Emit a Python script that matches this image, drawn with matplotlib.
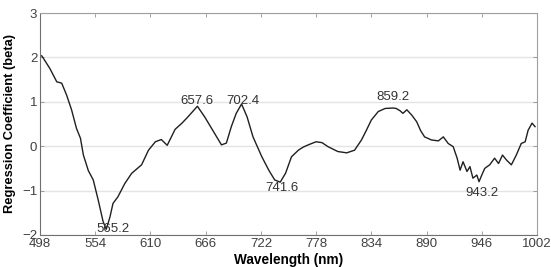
import matplotlib
matplotlib.use('Agg')
import matplotlib.pyplot as plt
import numpy as np

plt.rcParams['font.family'] = ['Liberation Sans', 'DejaVu Sans']

# wavelength (nm) and regression coefficient
wavelength = [498, 500, 508, 515, 520, 525, 530, 535, 539, 542, 547, 552, 557, 562,
              565.2, 569, 572, 577, 584, 591, 601, 608, 615, 621, 627, 635, 642, 648,
              657.6, 665, 675, 682, 687, 692, 697, 702.4, 708, 714, 723, 730, 736,
              741.6, 747, 753, 760, 765, 770, 778, 784, 790, 800, 809, 817, 824, 829,
              834, 841, 848, 856, 859.2, 863, 866, 870, 875, 880, 884, 888, 895, 902,
              907, 912, 917, 921, 924, 927, 931, 934, 937, 941, 943.2, 946, 949, 954,
              959, 963, 967, 971, 976, 981, 986, 990, 993, 997, 1000]
beta = [2.05, 2.03, 1.75, 1.45, 1.42, 1.15, 0.82, 0.40, 0.18, -0.20, -0.55, -0.76,
        -1.21, -1.70, -1.87, -1.59, -1.29, -1.14, -0.84, -0.61, -0.42, -0.09, 0.10,
        0.15, 0.02, 0.38, 0.52, 0.66, 0.90, 0.66, 0.29, 0.03, 0.07, 0.44, 0.74, 0.95,
        0.66, 0.21, -0.24, -0.54, -0.76, -0.81, -0.61, -0.24, -0.09, -0.02, 0.03,
        0.10, 0.08, -0.01, -0.12, -0.15, -0.09, 0.14, 0.36, 0.59, 0.78, 0.85, 0.86,
        0.85, 0.80, 0.74, 0.82, 0.70, 0.55, 0.35, 0.21, 0.14, 0.12, 0.21, 0.06,
        -0.01, -0.27, -0.54, -0.35, -0.57, -0.46, -0.72, -0.65, -0.80, -0.65, -0.50,
        -0.42, -0.27, -0.39, -0.20, -0.31, -0.42, -0.20, 0.06, 0.10, 0.36, 0.52, 0.44]

# annotated wavelengths and where their labels sit
peak_labels = ['565.2', '657.6', '702.4', '741.6', '859.2', '943.2']
label_x = [572, 657, 703.4, 743, 855.5, 946]
label_y = [-1.87, 1.02, 1.02, -0.95, 1.11, -1.06]

x_ticks = [498, 554, 610, 666, 722, 778, 834, 890, 946, 1002]
y_ticks = [-2, -1, 0, 1, 2, 3]

fig = plt.figure(figsize=(5.51, 2.67), dpi=100)
ax = fig.add_axes([0.0726, 0.1199, 0.902, 0.8314])

ax.plot(wavelength, beta, color='#202020', linewidth=1.0)

for lab, lx, ly in zip(peak_labels, label_x, label_y):
    ax.text(lx, ly, lab, ha='center', va='center', fontsize=9.5, color='#333333')

ax.set_xlim(498, 1002)
ax.set_ylim(-2, 3)
ax.set_xticks(x_ticks)
ax.set_yticks(y_ticks)
ax.yaxis.grid(True, color='#e4e4e4', linewidth=1.0)
ax.set_axisbelow(True)

ax.tick_params(direction='in', top=True, right=True, length=3, width=0.6,
               labelsize=9.5, labelcolor='#404040', color='#909090', pad=2)
for side in ['top', 'right']:
    ax.spines[side].set_color('#a0a0a0')
for side in ['left', 'bottom']:
    ax.spines[side].set_color('#707070')

ax.set_xlabel('Wavelength (nm)', fontsize=9.8, fontweight='bold', labelpad=2)
ax.set_ylabel('Regression Coefficient (beta)', fontsize=9.3, fontweight='bold', labelpad=4)

fig.savefig('out.png', dpi=100)
